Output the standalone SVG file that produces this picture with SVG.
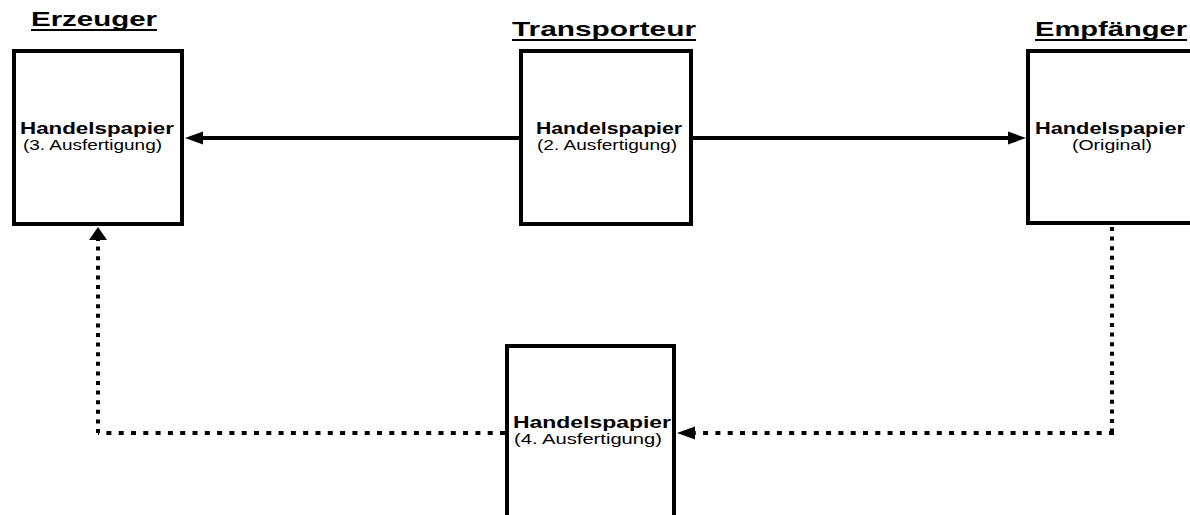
<svg xmlns="http://www.w3.org/2000/svg" width="1190" height="515" viewBox="0 0 1190 515">
<style>
.box{fill:#fff;stroke:#000;stroke-width:4}
.t{font-family:"Liberation Sans",Arial,sans-serif;fill:#000}
.title{font-size:21px;font-weight:bold}
.h{font-size:16px;font-weight:bold}
.s{font-size:14.5px}
.ul{stroke:#000;stroke-width:2}
.solid{fill:none;stroke:#000;stroke-width:4}
.dh{fill:none;stroke:#000;stroke-width:4;stroke-dasharray:5 7.3}
.dv{fill:none;stroke:#000;stroke-width:4;stroke-dasharray:4 5.6}
.head{fill:#000}
</style>
<rect width="1190" height="515" fill="#fff"/>
<g id="connectors">
  <line class="solid" x1="520" y1="138" x2="200" y2="138"/>
  <polygon class="head" points="185,138 203,131.5 203,144.5"/>
  <line class="solid" x1="692" y1="138" x2="1010" y2="138"/>
  <polygon class="head" points="1026,138 1008,131.5 1008,144.5"/>
  <line class="dv" x1="1112" y1="227" x2="1112" y2="433"/>
  <line class="dh" x1="1114" y1="433" x2="693" y2="433"/>
  <polygon class="head" points="677,433 695,426.5 695,439.5"/>
  <line class="dh" x1="505" y1="433" x2="98" y2="433"/>
  <line class="dv" x1="98" y1="433" x2="98" y2="240"/>
  <polygon class="head" points="98,227 89,240 107,240"/>
</g>
<g id="erzeuger">
  <text class="t title" x="31" y="26" textLength="126" lengthAdjust="spacingAndGlyphs">Erzeuger</text>
  <line class="ul" x1="31" y1="30" x2="157" y2="30"/>
  <rect class="box" x="14" y="51" width="168" height="173"/>
  <text class="t h" x="20" y="134" textLength="154" lengthAdjust="spacingAndGlyphs">Handelspapier</text>
  <text class="t s" x="23" y="149.5" textLength="139" lengthAdjust="spacingAndGlyphs">(3. Ausfertigung)</text>
</g>
<g id="transporteur">
  <text class="t title" x="512" y="36" textLength="184" lengthAdjust="spacingAndGlyphs">Transporteur</text>
  <line class="ul" x1="512" y1="40" x2="696" y2="40"/>
  <rect class="box" x="521" y="51" width="170" height="173"/>
  <text class="t h" x="536" y="134" textLength="146" lengthAdjust="spacingAndGlyphs">Handelspapier</text>
  <text class="t s" x="537" y="149.5" textLength="140" lengthAdjust="spacingAndGlyphs">(2. Ausfertigung)</text>
</g>
<g id="empfaenger">
  <text class="t title" x="1035" y="36" textLength="152" lengthAdjust="spacingAndGlyphs">Empfänger</text>
  <line class="ul" x1="1035" y1="40" x2="1187" y2="40"/>
  <rect class="box" x="1028" y="51" width="200" height="172"/>
  <text class="t h" x="1035" y="134" textLength="150" lengthAdjust="spacingAndGlyphs">Handelspapier</text>
  <text class="t s" x="1072" y="149.5" textLength="80" lengthAdjust="spacingAndGlyphs">(Original)</text>
</g>
<g id="kopie4">
  <rect class="box" x="507" y="346" width="167" height="200"/>
  <text class="t h" x="513" y="428" textLength="158" lengthAdjust="spacingAndGlyphs">Handelspapier</text>
  <text class="t s" x="514" y="444" textLength="148" lengthAdjust="spacingAndGlyphs">(4. Ausfertigung)</text>
</g>
</svg>
